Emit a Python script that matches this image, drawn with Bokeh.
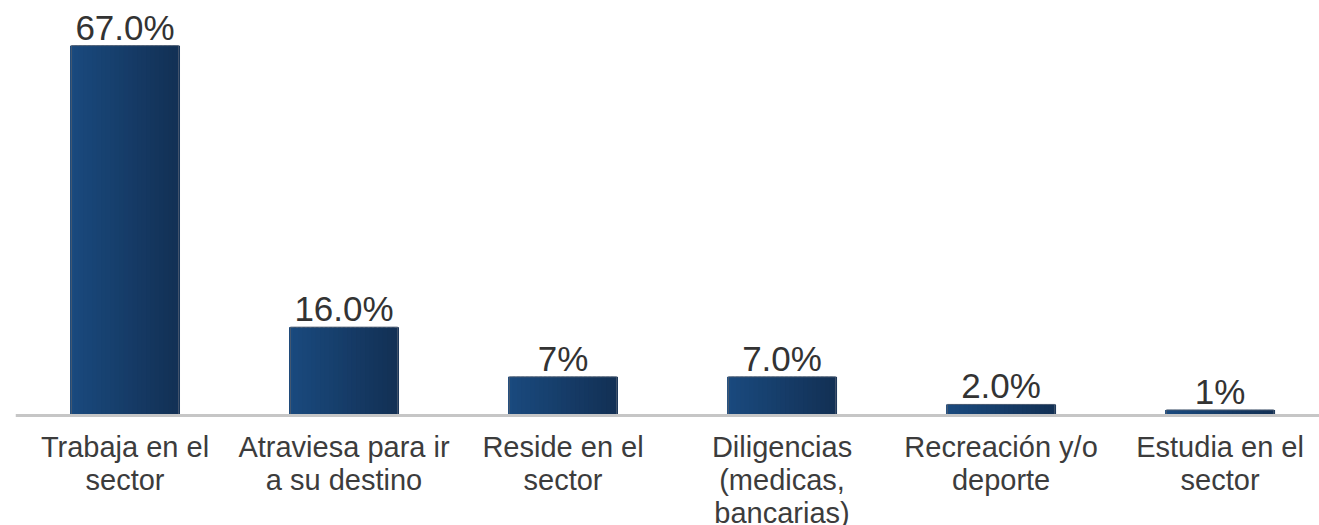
import numpy as np
from bokeh.plotting import figure
from bokeh.models import ColumnDataSource, LabelSet, Range1d, Span
from bokeh.core.properties import value
from bokeh.transform import dodge
from bokeh.embed import file_html
from bokeh.resources import INLINE

categories = ["Trabaja en el\nsector", "Atraviesa para ir\na su destino", "Reside en el\nsector",
              "Diligencias\n(medicas,\nbancarias)", "Recreación y/o\ndeporte", "Estudia en el\nsector"]
values = [67.0, 16.0, 7.0, 7.0, 2.0, 1.0]
value_labels = ["67.0%", "16.0%", "7%", "7.0%", "2.0%", "1%"]

xs = list(range(len(categories)))
src = ColumnDataSource(dict(x=xs, top=values, vlab=value_labels))

p = figure(width=1319, height=525, output_backend="svg", toolbar_location=None,
           x_range=Range1d(-0.5, 5.454), y_range=Range1d(-19.93, 75.18))
p.min_border_left = 15
p.min_border_right = 0
p.min_border_top = 0
p.min_border_bottom = 0
p.xaxis.visible = False
p.yaxis.visible = False
p.xgrid.visible = False
p.ygrid.visible = False
p.outline_line_color = None

# bar body with a soft left-to-right shading
bar_w = 0.49
n_strips = 24
c0 = np.array([0x1a, 0x4a, 0x7e])
c1 = np.array([0x13, 0x31, 0x56])
sw = bar_w / n_strips
for k in range(n_strips):
    t = k / (n_strips - 1)
    col = "#%02x%02x%02x" % tuple((c0 + (c1 - c0) * t).astype(int))
    off = -bar_w / 2 + sw * (k + 0.5)
    p.vbar(x=dodge("x", off, range=p.x_range), top="top", bottom=0, width=sw * 1.6,
           source=src, fill_color=col, line_color=None)
p.vbar(x="x", top="top", bottom=0, width=bar_w, source=src,
       fill_color=None, line_color="#4a5a70", line_width=1)

p.add_layout(Span(location=0, dimension="width", line_color="#c6c6c6", line_width=3))

p.add_layout(LabelSet(x="x", y="top", text="vlab", source=src, text_align="center",
                      text_baseline="alphabetic", y_offset=6,
                      text_font=value("Liberation Sans"), text_font_size="35px",
                      text_color="#333333"))

# category labels, each line centred under its bar
split = [c.split("\n") for c in categories]
n_lines = max(len(s) for s in split)
for j in range(n_lines):
    lx = [x for x, s in zip(xs, split) if len(s) > j]
    lt = [s[j] for s in split if len(s) > j]
    lsrc = ColumnDataSource(dict(x=lx, y=[0] * len(lx), t=lt))
    p.add_layout(LabelSet(x="x", y="y", text="t", source=lsrc, text_align="center",
                          text_baseline="alphabetic", y_offset=-42 - 33 * j,
                          text_font=value("Liberation Sans"), text_font_size="29px",
                          text_color="#3c3c3c"))

open("out.html", "w").write(file_html(p, INLINE))
